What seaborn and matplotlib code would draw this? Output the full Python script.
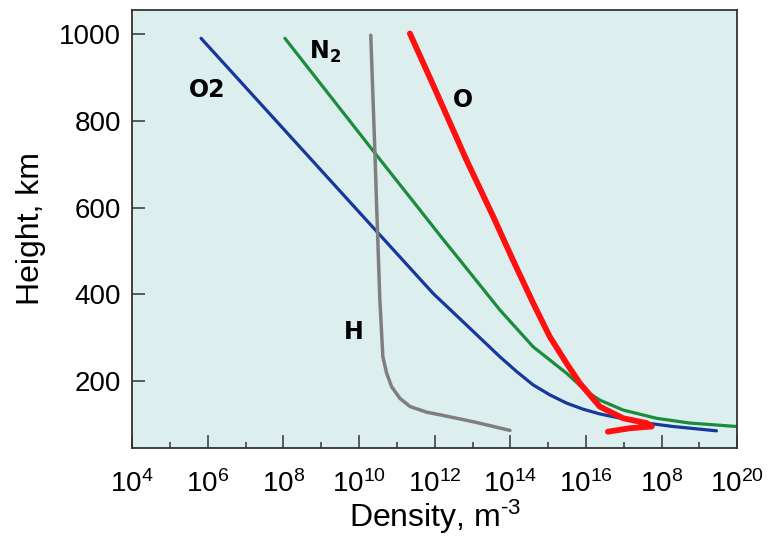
import numpy as np
import pandas as pd
import seaborn as sns
import matplotlib.pyplot as plt
from matplotlib.ticker import NullFormatter

# values: log10(density in m^-3) and height in km

o2_logn = [5.823, 10.50, 11.96, 12.843, 13.723, 14.164, 14.602, 15.044, 15.485, 15.923, 16.364, 17.42, 18.30, 19.45]
o2_h = [991, 542, 402, 329, 256, 222, 191, 168, 149, 135, 124, 105, 95, 85]

n2_logn = [8.04, 10.42, 11.40, 12.24, 12.666, 13.723, 14.602, 15.485, 16.013, 16.364, 16.98, 17.86, 18.74, 19.98]
n2_h = [991, 726, 618, 525, 479, 364, 279, 218, 176, 156, 133, 114, 103, 95]

o_logn = [11.345, 11.94, 12.84, 13.55, 14.07, 14.602, 15.044, 15.485, 15.836, 16.364, 16.98, 17.60, 17.74, 17.16, 16.58]
o_h = [1002, 887, 710, 579, 479, 380, 302, 241, 195, 141, 114, 103, 95, 91, 83]

h_logn = [10.31, 10.42, 10.46, 10.55, 10.63, 10.73, 10.86, 11.08, 11.35, 11.79, 12.14, 13.02, 13.99]
h_h = [998, 726, 618, 387, 256, 218, 187, 160, 141, 128, 122, 106, 86]

tick_exp = [4, 6, 8, 10, 12, 14, 16, 18, 20]
tick_text = ["4", "6", "8", "10", "12", "14", "16", "8", "20"]  # original shows "10^8" at 10^18
y_ticks = [200, 400, 600, 800, 1000]

sns.set_style("ticks")
plt.rcParams["font.family"] = ["Liberation Sans", "DejaVu Sans"]
plt.rcParams["mathtext.fontset"] = "custom"
plt.rcParams["mathtext.rm"] = "Liberation Sans"
plt.rcParams["mathtext.bf"] = "Liberation Sans:bold"
plt.rcParams["mathtext.default"] = "regular"
plt.rcParams["text.color"] = "black"
plt.rcParams["axes.labelcolor"] = "black"

fig = plt.figure(figsize=(7.68, 5.38), dpi=100)
ax = fig.add_axes([0.172, 0.167, 0.788, 0.815])
ax.set_facecolor("#ddeeee")

def curve(logn, h):
    return pd.DataFrame({"n": 10.0 ** np.array(logn), "h": h})

style = dict(sort=False, ax=ax, solid_capstyle="round", solid_joinstyle="round")
sns.lineplot(data=curve(o2_logn, o2_h), x="n", y="h", color="#15389a", lw=2.3, **style)
sns.lineplot(data=curve(n2_logn, n2_h), x="n", y="h", color="#1a8c3c", lw=2.3, **style)
sns.lineplot(data=curve(h_logn, h_h), x="n", y="h", color="#7f7f7f", lw=2.5, **style)
sns.lineplot(data=curve(o_logn, o_h), x="n", y="h", color="#ff1010", lw=4.2, **style)

ax.set_xscale("log")
ax.set_xlim(1e4, 1e20)
ax.set_ylim(45, 1057)

ax.set_xticks([10.0 ** e for e in tick_exp])
ax.set_xticklabels([r"$10^{%s}$" % t for t in tick_text])
ax.set_xticks([10.0 ** e for e in range(5, 20, 2)], minor=True)
ax.xaxis.set_minor_formatter(NullFormatter())
ax.set_yticks(y_ticks)

ax.tick_params(axis="both", which="major", direction="in", length=9.5, width=1.1,
               labelsize=20, color="#333333", labelcolor="black")
ax.tick_params(axis="x", which="major", pad=16)
ax.tick_params(axis="y", which="major", pad=8)
ax.tick_params(axis="x", which="minor", direction="in", length=4.5, width=1.1, color="#333333")
ax.tick_params(axis="y", which="minor", length=0)

for s in ax.spines.values():
    s.set_color("#333333")
    s.set_linewidth(1.3)

ax.set_xlabel(r"Density, m$^{\text{-}3}$", fontsize=23, labelpad=0)
ax.set_ylabel("Height, km", fontsize=23, labelpad=9)

lab = dict(fontsize=17, fontweight="bold", ha="center", va="center", color="black",
           family=["DejaVu Sans"])
ax.text(10 ** 5.98, 872, "O2", **lab)
ax.text(10 ** 9.11, 960, r"N$_2$", **lab)
ax.text(10 ** 12.76, 849, "O", **lab)
ax.text(10 ** 9.87, 314, "H", **lab)

fig.savefig("out.png", dpi=100)
